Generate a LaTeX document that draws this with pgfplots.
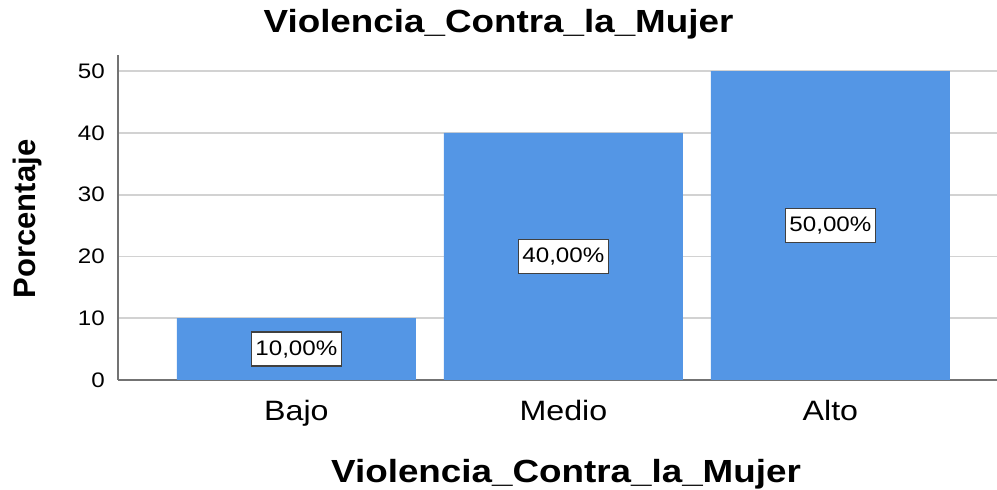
\documentclass[border=0pt]{standalone}
\usepackage{fontspec}
\setmainfont[FakeStretch=1.15]{Liberation Sans}
\newfontfamily\ylabfont{Liberation Sans}
\usepackage{pgfplots}
\pgfplotsset{compat=1.18}
\definecolor{barblue}{RGB}{84,150,229}
\definecolor{gridgray}{RGB}{210,210,210}
\definecolor{axgray}{RGB}{115,115,115}
\begin{document}
\begin{tikzpicture}[x=1bp,y=1bp]
\useasboundingbox (0,0) rectangle (997,490);
\begin{axis}[
  at={(118bp,110bp)}, anchor=south west,
  scale only axis, width=879bp, height=325bp,
  xmin=-0.668, xmax=2.624, ymin=0, ymax=52.6,
  axis lines*=left,
  axis line style={-, axgray, line width=1.8bp},
  xtick={0,1,2}, xticklabels={Bajo,Medio,Alto},
  ytick={0,10,20,30,40,50},
  ymajorgrids, grid style={gridgray, line width=1.8bp},
  major tick length=0pt,
  tick style={draw=none},
  xticklabel style={font=\fontsize{28bp}{30bp}\selectfont, anchor=north, inner sep=0pt, yshift=-20bp},
  yticklabel style={font=\fontsize{21bp}{23bp}\selectfont, anchor=east, inner sep=0pt, xshift=-13bp},
  /pgf/number format/assume math mode=true,
  title={Violencia\_Contra\_la\_Mujer},
  title style={font=\bfseries\fontsize{32bp}{34bp}\selectfont, at={(axis description cs:0.4329,1.0523)}, anchor=base},
  xlabel={Violencia\_Contra\_la\_Mujer},
  xlabel style={font=\bfseries\fontsize{32bp}{34bp}\selectfont, at={(axis description cs:0.5097,-0.3169)}, anchor=base},
  ylabel={Porcentaje},
  ylabel style={font=\ylabfont\bfseries\fontsize{31bp}{33bp}\selectfont, at={(axis description cs:-0.1035,0.4954)}, anchor=center},
]
\addplot[ybar, bar width=0.895, fill=barblue, draw=none] coordinates {(0,10) (1,40) (2,50)};
\addplot[draw=none, mark=none, nodes near coords, point meta=explicit symbolic,
  nodes near coords style={anchor=center, fill=white, draw=black!75, line width=1.3bp,
    font=\fontsize{21bp}{23bp}\selectfont, inner xsep=4bp, minimum height=34bp}]
  coordinates {(0,5) [10,00\%] (1,20) [40,00\%] (2,25) [50,00\%]};
\end{axis}
\end{tikzpicture}
\end{document}
